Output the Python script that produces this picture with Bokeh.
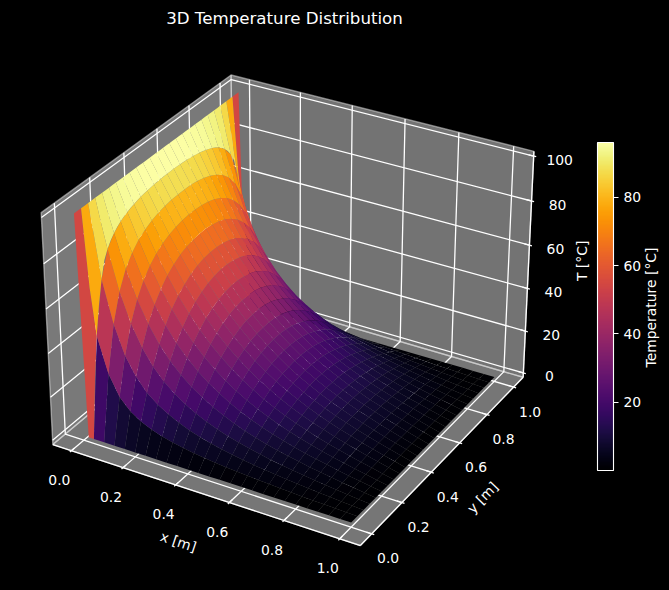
import numpy as np
from bokeh.plotting import figure, ColumnDataSource
from bokeh.models import Range1d, LinearColorMapper, ColorBar, FixedTicker
from bokeh.palettes import Inferno256
from bokeh.transform import transform
from bokeh.core.properties import value
from bokeh.embed import file_html
from bokeh.resources import INLINE

x_grid = [0.0,0.04,0.08,0.12,0.16,0.2,0.24,0.28,0.32,0.36,0.4,0.44,0.48,0.52,0.56,0.6,0.64,0.68,0.72,0.76,0.8,0.84,0.88,0.92,0.96,1.0]
y_grid = list(x_grid)
# Temperature along y (one half; the picture is mirror-symmetric about y = 0.5), one row per x.
T_half = [
 [100,100,100,100,100,100,100,100,100,100,100,100,100],
 [0,45.0,68.0,79.0,83.7,86.6,88.4,89.7,90.6,91.2,91.6,91.9,92.0],
 [0,29.2,49.3,61.5,69.1,74.0,77.4,79.7,81.4,82.6,83.4,83.9,84.0],
 [0,20.0,36.4,48.5,56.9,62.9,67.2,70.3,72.6,74.2,75.3,76.0,76.3],
 [0,14.9,28.2,38.9,47.2,53.5,58.2,61.8,64.4,66.4,67.7,68.5,69.0],
 [0,11.7,22.4,31.8,39.5,45.6,50.5,54.1,56.9,59.1,60.6,61.5,61.9],
 [0,9.5,18.5,26.4,33.3,39.0,43.7,47.4,50.3,52.5,54.0,55.0,55.5],
 [0,7.9,15.5,22.3,28.4,33.6,38.0,41.5,44.3,46.5,48.0,49.0,49.5],
 [0,6.6,13.1,19.0,24.3,29.0,33.0,36.3,38.9,41.0,42.6,43.6,44.0],
 [0,5.6,11.1,16.3,21.1,25.1,28.8,31.8,34.2,36.2,37.7,38.6,39.0],
 [0,4.8,9.5,14.0,18.1,21.8,25.0,27.8,30.1,31.8,33.2,34.1,34.4],
 [0,4.2,8.2,12.1,15.7,18.9,21.8,24.3,26.3,28.0,29.2,30.0,30.4],
 [0,3.6,7.1,10.4,13.6,16.4,19.0,21.2,23.0,24.5,25.6,26.3,26.7],
 [0,3.1,6.1,9.0,11.7,14.2,16.5,18.4,20.1,21.4,22.4,23.0,23.3],
 [0,2.7,5.3,7.8,10.1,12.3,14.3,16.0,17.4,18.6,19.5,20.0,20.3],
 [0,2.3,4.5,6.7,8.7,10.6,12.3,13.8,15.0,16.1,16.8,17.4,17.6],
 [0,2.0,3.9,5.7,7.5,9.1,10.6,11.8,12.9,13.8,14.5,15.0,15.2],
 [0,1.7,3.3,4.9,6.4,7.7,9.0,10.1,11.0,11.8,12.4,12.8,13.0],
 [0,1.4,2.8,4.1,5.4,6.5,7.6,8.5,9.3,9.9,10.4,10.8,10.9],
 [0,1.2,2.3,3.4,4.4,5.4,6.3,7.0,7.7,8.25,8.7,8.9,9.1],
 [0,0.9,1.8,2.7,3.6,4.4,5.1,5.7,6.2,6.7,7.0,7.3,7.4],
 [0,0.72,1.44,2.13,2.78,3.4,3.96,4.45,4.88,5.23,5.5,5.68,5.77],
 [0,0.53,1.06,1.56,2.05,2.5,2.91,3.27,3.59,3.85,4.04,4.17,4.24],
 [0,0.35,0.7,1.03,1.35,1.65,1.92,2.16,2.36,2.53,2.66,2.75,2.79],
 [0,0.17,0.35,0.51,0.67,0.82,0.95,1.07,1.17,1.26,1.32,1.37,1.39],
 [0,0,0,0,0,0,0,0,0,0,0,0,0],
]
# Steep first strip of the surface has extra vertices: x = 0.02 at each y of y_grid (half),
# and x = 0.04 halfway between neighbouring y_grid values (half, last entry is the centre).
T_x002_half = [0,66.0,84.2,89.2,91.7,93.2,94.2,94.8,95.3,95.6,95.8,95.9,96.0]
T_x004_mid_half = [26.0,58.0,75.3,81.7,85.3,87.6,89.1,90.2,90.9,91.4,91.8,92.0,92.0]
x_ticks = [0.0, 0.2, 0.4, 0.6, 0.8, 1.0]
y_ticks = [0.0, 0.2, 0.4, 0.6, 0.8, 1.0]
z_ticks = [0, 20, 40, 60, 80, 100]
cb_ticks = [20, 40, 60, 80]
x_tick_labels = ["0.0", "0.2", "0.4", "0.6", "0.8", "1.0"]
y_tick_labels = ["0.0", "0.2", "0.4", "0.6", "0.8", "1.0"]
z_tick_labels = ["0", "20", "40", "60", "80", "100"]

T = np.array([r + r[::-1] for r in T_half], dtype=float)
T_x002 = T_x002_half + T_x002_half[::-1]
T_x004_mid = T_x004_mid_half + T_x004_mid_half[-2::-1]
X = np.array(x_grid); Y = np.array(y_grid)

# view geometry: elev 30, azim -60, perspective at distance 10, box aspect 4:4:3
xlim = (-0.05, 1.05); ylim = (-0.05, 1.05); zlim = (0.0, 100.0)
box = np.array([4.0, 4.0, 3.0]) * 1.8294640721620434 * 25 / 24 / np.sqrt(41.0)
el, az = np.radians(30), np.radians(-60)
w = np.array([np.cos(el) * np.cos(az), np.cos(el) * np.sin(az), np.sin(el)])
u = np.cross([0, 0, 1], w); u /= np.linalg.norm(u)
v = np.cross(w, u)
DIST = 10.0

def q_of(x, y, z):
    x, y, z = np.asarray(x, float), np.asarray(y, float), np.asarray(z, float)
    wx = (x - xlim[0]) / (xlim[1] - xlim[0]) * box[0] - box[0] / 2
    wy = (y - ylim[0]) / (ylim[1] - ylim[0]) * box[1] - box[1] / 2
    wz = (z - zlim[0]) / (zlim[1] - zlim[0]) * box[2] - box[2] / 2
    return wx, wy, wz

def proj(x, y, z):
    a, b, c = q_of(x, y, z)
    den = DIST - (w[0] * a + w[1] * b + w[2] * c)
    return (u[0] * a + u[1] * b + u[2] * c) / den, (v[0] * a + v[1] * b + v[2] * c) / den

def depth(x, y, z):
    a, b, c = q_of(x, y, z)
    return w[0] * a + w[1] * b + w[2] * c

# pane limits
dx = (xlim[1] - xlim[0]) / 48; dy = (ylim[1] - ylim[0]) / 48; dz = (zlim[1] - zlim[0]) / 48
x0, x1 = xlim[0] - dx, xlim[1] + dx
y0, y1 = ylim[0] - dy, ylim[1] + dy
z0, z1 = zlim[0] - dz, zlim[1] + dz
tick_dx = (xlim[1] - xlim[0]) / 12 * 0.1
tick_dy = (ylim[1] - ylim[0]) / 12 * 0.1
tick_dz = (zlim[1] - zlim[0]) / 12 * 0.1

# screen calibration
SCALE = 2840.0; CX = 292.0; CY = 298.0
W, H = 669, 590
def sx(px): return (px - CX) / SCALE
def sy(py): return (CY - py) / SCALE

p = figure(width=W, height=H, output_backend="svg", toolbar_location=None,
           x_range=Range1d(sx(0), sx(W)), y_range=Range1d(sy(H), sy(0)),
           x_axis_location=None, y_axis_location=None, min_border=0,
           background_fill_color="black", border_fill_color="black", outline_line_color=None)
p.grid.visible = False

def pane(xs, ys, zs, g):
    a, b = proj(xs, ys, zs)
    col = (int(g * 255), int(g * 255), int(g * 255))
    p.patch(list(a), list(b), fill_color=col, fill_alpha=0.5, line_color=col, line_alpha=0.5, line_width=1.39)

pane([x0, x0, x0, x0], [y0, y1, y1, y0], [z0, z0, z1, z1], 0.95)
pane([x0, x1, x1, x0], [y1, y1, y1, y1], [z0, z0, z1, z1], 0.90)
pane([x0, x1, x1, x0], [y0, y0, y1, y1], [z0, z0, z0, z0], 0.925)

LW = 1.3
gx, gy = [], []
def add3d(xs, ys, zs):
    a, b = proj(xs, ys, zs)
    gx.append(list(a)); gy.append(list(b))
for t in x_ticks:
    add3d([t, t, t], [y0, y1, y1], [z0, z0, z1])
    add3d([t, t], [y0 - tick_dy, y0 + 2 * tick_dy], [z0, z0])
for t in y_ticks:
    add3d([x1, x0, x0], [t, t, t], [z0, z0, z1])
    add3d([x1 + tick_dx, x1 - 2 * tick_dx], [t, t], [z0, z0])
for t in z_ticks:
    add3d([x1, x0, x0], [y1, y1, y0], [t, t, t])
    add3d([x1 + tick_dx, x1 - 2 * tick_dx], [y1, y1], [t, t])
# axis lines
add3d([x0, x1], [y0, y0], [z0, z0])
add3d([x1, x1], [y0, y1], [z0, z0])
add3d([x1, x1], [y1, y1], [z0, z1])
p.multi_line(gx, gy, line_color="white", line_width=LW)

# surface
polys = []
xa, xm, xb = X[0], (X[0] + X[1]) / 2, X[1]
for i in range(len(X) - 1):
    for j in range(len(Y) - 1):
        if i == 0:
            ym = (Y[j] + Y[j + 1]) / 2
            cx_ = [xa, xa, xa, xm, xb, xb, xb, xm]
            cy_ = [Y[j], ym, Y[j + 1], Y[j + 1], Y[j + 1], ym, Y[j], Y[j]]
            cz_ = [T[0, j], (T[0, j] + T[0, j + 1]) / 2, T[0, j + 1], T_x002[j + 1], T[1, j + 1],
                   T_x004_mid[j], T[1, j], T_x002[j]]
        else:
            cx_ = [X[i], X[i + 1], X[i + 1], X[i]]
            cy_ = [Y[j], Y[j], Y[j + 1], Y[j + 1]]
            cz_ = [T[i, j], T[i + 1, j], T[i + 1, j + 1], T[i, j + 1]]
        polys.append((float(np.mean(depth(cx_, cy_, cz_))), cx_, cy_, cz_, float(np.mean(cz_))))
polys.sort(key=lambda r: r[0])
sxs, sys_, vals = [], [], []
for _, a, b, c, m in polys:
    s, t = proj(a, b, c)
    sxs.append(list(s)); sys_.append(list(t)); vals.append(m)
low, high = min(vals), max(vals)
mapper = LinearColorMapper(palette=Inferno256, low=low, high=high)
src = ColumnDataSource(dict(xs=sxs, ys=sys_, v=vals))
p.patches("xs", "ys", source=src, fill_color=transform("v", mapper), line_color=None)

FONT = value("DejaVu Sans")
def labels(xs, ys, zs, texts, xo, yo):
    a, b = proj(xs, ys, zs)
    p.text(list(a), list(b), text=texts, text_color="white", text_font=FONT, text_font_size="13.9px",
           text_align="center", text_baseline="middle", x_offset=xo, y_offset=yo)
n = len(x_ticks)
labels(x_ticks, [y0] * n, [z0] * n, x_tick_labels, -12, 29.5)
labels([x1] * n, y_ticks, [z0] * n, y_tick_labels, 16.5, 24.5)
labels([x1] * n, [y1] * n, z_ticks, z_tick_labels, 26, 3.5)

def axis_label(x, y, z, txt, xo, yo, ang):
    a, b = proj([x], [y], [z])
    p.text(list(a), list(b), text=[txt], text_color="white", text_font=FONT, text_font_size="13.9px",
           text_align="center", text_baseline="middle", x_offset=xo, y_offset=yo, angle=ang)
axis_label(0.5, y0, z0, "x [m]", -24, 48, np.radians(-18.3))
axis_label(x1, 0.5, z0, "y [m]", 37, 40, np.radians(45.9))
axis_label(x1, y1, 50, "T [°C]", 54, -6, np.pi / 2)

p.text([sx(284)], [sy(18)], text=["3D Temperature Distribution"], text_color="white", text_font=FONT,
       text_font_size="16.67px", text_align="center", text_baseline="middle")
p.text([sx(650)], [sy(307)], text=["Temperature [°C]"], text_color="white", text_font=FONT,
       text_font_size="13.9px", text_align="center", text_baseline="middle", angle=np.pi / 2)

cb = ColorBar(color_mapper=mapper, ticker=FixedTicker(ticks=cb_ticks), width=16, height=328,
              location=(597, 120), padding=0, margin=0, background_fill_alpha=0,
              bar_line_color="white", bar_line_width=1.11,
              major_label_text_color="white", major_label_text_font="DejaVu Sans",
              major_label_text_font_size="13.9px", major_tick_in=0, major_tick_out=5,
              major_tick_line_color="white", major_tick_line_width=1.11, minor_tick_line_color=None,
              border_line_color=None, label_standoff=5)
p.add_layout(cb, "center")

html = file_html(p, INLINE)
html = html.replace("<head>", "<head><style>html,body{background:#000;margin:0;overflow:hidden;}</style>", 1)
open("out.html", "w").write(html)
